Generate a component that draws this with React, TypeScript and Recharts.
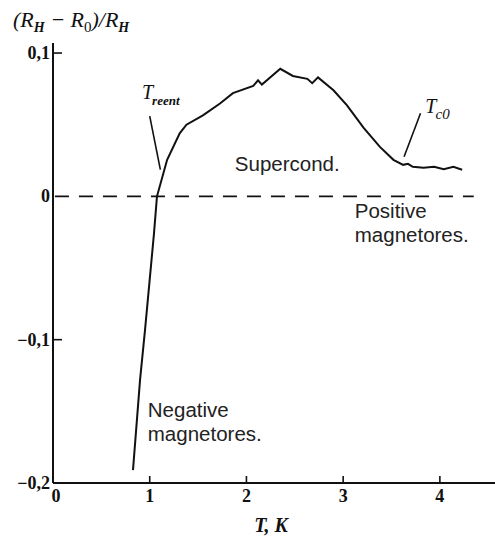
import React from 'react';
import { LineChart, Line, XAxis, YAxis, ReferenceLine, ReferenceDot } from 'recharts';

// T, K
const temps = [
  0.827, 0.9, 0.951, 1.044, 1.075, 1.18, 1.31, 1.38, 1.55, 1.73, 1.86, 2.07, 2.12, 2.16,
  2.35, 2.48, 2.63, 2.68, 2.74, 2.9, 3.04, 3.21, 3.38, 3.52, 3.62, 3.67, 3.72, 3.83, 3.94,
  4.04, 4.14, 4.23,
];
// (R_H - R_0)/R_H
const ratio = [
  -0.191, -0.128, -0.0935, -0.026, 0, 0.0255, 0.044, 0.05, 0.0565, 0.065, 0.072, 0.077,
  0.081, 0.078, 0.089, 0.084, 0.082, 0.079, 0.083, 0.074, 0.0635, 0.048, 0.0345, 0.0255,
  0.022, 0.0227, 0.0206, 0.02, 0.0206, 0.019, 0.0206, 0.0186,
];
const xTicks = [0, 1, 2, 3, 4];
const yTicks = [-0.2, -0.1, 0, 0.1];

const data = temps.map((t, i) => ({ t, v: ratio[i] }));

const SERIF = '"Liberation Serif", "DejaVu Serif", serif';
const SANS = '"Liberation Sans", Arial, sans-serif';

const fmt = (v: number) => (v === 0 ? '0' : (v < 0 ? '\u2212' : '') + Math.abs(v).toFixed(1).replace('.', ','));

const XTick = ({ x, y, payload }: any) => (
  <g>
    {payload.value !== 0 && <line x1={x} y1={y} x2={x} y2={y - 7} stroke="#111" strokeWidth={1.6} />}
    <text x={x + (payload.value === 0 ? 3 : 0)} y={y + 19} textAnchor="middle" fontFamily={SERIF} fontWeight="bold" fontSize={18} fill="#111">
      {payload.value}
    </text>
  </g>
);

const YTick = ({ x, y, payload }: any) => (
  <g>
    {Math.abs(payload.value) === 0.1 && <line x1={x} y1={y} x2={x + 9} y2={y} stroke="#111" strokeWidth={1.6} />}
    <text x={x - 3} y={y + 6} textAnchor="end" fontFamily={SERIF} fontWeight="bold" fontSize={18} fill="#111">
      {fmt(payload.value)}
    </text>
  </g>
);

// annotation anchors in data units
const notes = [
  { x: 1.88, y: 0.018, lines: ['Supercond.'] },
  { x: 3.12, y: -0.0154, lines: ['Positive', 'magnetores.'] },
  { x: 0.98, y: -0.154, lines: ['Negative', 'magnetores.'] },
];

const textLabel = (lines: string[]) => (props: any) => {
  const { viewBox } = props;
  const x = viewBox.x + 1;
  const y = viewBox.y + 1;
  return (
    <text x={x} y={y} fontFamily={SANS} fontSize={20.5} fill="#222">
      {lines.map((l, i) => (
        <tspan key={i} x={x} dy={i === 0 ? 0 : 24}>
          {l}
        </tspan>
      ))}
    </text>
  );
};

const tLabel = (sub: string, subSize: number, subBold: boolean) => (props: any) => {
  const { viewBox } = props;
  const x = viewBox.x + 1;
  const y = viewBox.y + 1;
  return (
    <text x={x} y={y} fontFamily={SERIF} fontStyle="italic" fontSize={20} fill="#111">
      T
      <tspan dy={6} dx={-1} fontSize={subSize} fontWeight={subBold ? 'bold' : 'normal'}>
        {sub}
      </tspan>
    </text>
  );
};

const TitleLabel = (props: any) => {
  const { viewBox } = props;
  const x = 13;
  const y = viewBox.y - 16;
  return (
    <text x={x} y={y} fontFamily={SERIF} fontStyle="italic" fontSize={22} fill="#111">
      (R<tspan dy={5} fontSize={14} fontWeight="bold">H</tspan>
      <tspan dy={-5}> {'\u2212'} R</tspan>
      <tspan dy={5} fontSize={15} fontStyle="normal">0</tspan>
      <tspan dy={-5}>)/R</tspan>
      <tspan dy={5} fontSize={14} fontWeight="bold">H</tspan>
    </text>
  );
};

const XTitle = (props: any) => {
  const { viewBox } = props;
  return (
    <text x={271} y={viewBox.y + 49} textAnchor="middle" fontFamily={SERIF} fontStyle="italic" fontWeight="bold" fontSize={20} fill="#111">
      T, K
    </text>
  );
};

export default function App() {
  return (
    <div style={{ position: 'absolute', left: 0, top: 0, background: '#fff' }}>
      <LineChart width={495} height={539} data={data} margin={{ top: 43, right: 0, left: 0, bottom: 0 }}>
        <XAxis
          dataKey="t"
          type="number"
          domain={[0, 4.57]}
          ticks={xTicks}
          allowDataOverflow
          height={56}
          tickLine={false}
          tickSize={0}
          tickMargin={0}
          tick={<XTick />}
          axisLine={{ stroke: '#111', strokeWidth: 2 }}
          label={{ content: XTitle }}
        />
        <YAxis
          type="number"
          domain={[-0.2, 0.107]}
          ticks={yTicks}
          allowDataOverflow
          width={53}
          tickLine={false}
          tickSize={0}
          tickMargin={0}
          tick={<YTick />}
          axisLine={{ stroke: '#111', strokeWidth: 2 }}
          label={{ content: TitleLabel }}
        />
        <ReferenceLine
          segment={[{ x: 0.02, y: 0 }, { x: 4.35, y: 0 }]}
          stroke="#111"
          strokeWidth={1.8}
          strokeDasharray="14 10"
        />
        <ReferenceLine segment={[{ x: 1.0, y: 0.056 }, { x: 1.11, y: 0.0186 }]} stroke="#111" strokeWidth={1.6} />
        <ReferenceLine segment={[{ x: 3.8, y: 0.058 }, { x: 3.63, y: 0.0276 }]} stroke="#111" strokeWidth={1.6} />
        <Line
          dataKey="v"
          type="linear"
          stroke="#111"
          strokeWidth={2}
          dot={false}
          isAnimationActive={false}
        />
        {notes.map((n, i) => (
          <ReferenceDot key={i} x={n.x} y={n.y} r={1} fill="none" stroke="none" label={textLabel(n.lines)} />
        ))}
        <ReferenceDot x={0.92} y={0.068} r={1} fill="none" stroke="none" label={tLabel('reent', 13, true)} />
        <ReferenceDot x={3.85} y={0.058} r={1} fill="none" stroke="none" label={tLabel('c0', 15, false)} />
      </LineChart>
    </div>
  );
}
